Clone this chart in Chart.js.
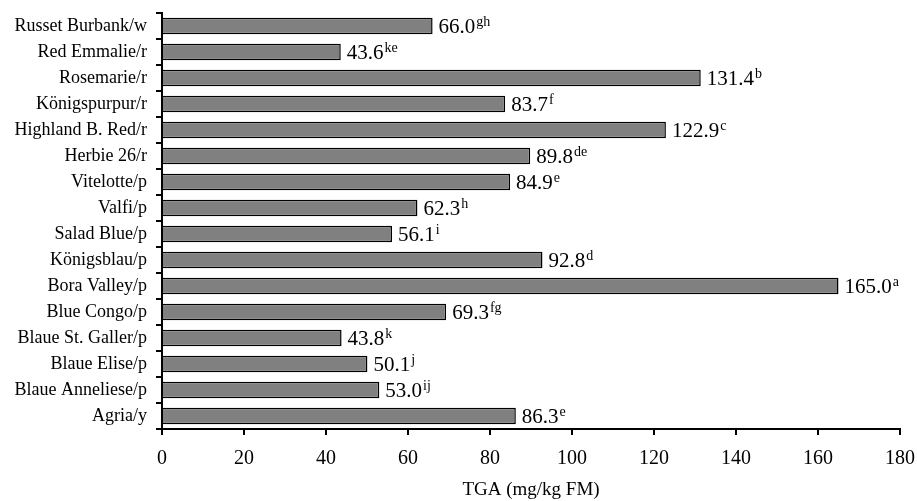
<!doctype html>
<html>
<head>
<title>TGA chart</title>
<script src="https://cdn.jsdelivr.net/npm/chart.js@4/dist/chart.umd.min.js"></script>
<style>
body { margin: 0; background: #fff; }
#wrap { width: 917px; height: 501px; }
</style>
</head>
<body>
<div id="wrap"><canvas id="canvas"></canvas></div>
<script>
var cultivars = ['Russet Burbank/w', 'Red Emmalie/r', 'Rosemarie/r', 'Königspurpur/r', 'Highland B. Red/r',
  'Herbie 26/r', 'Vitelotte/p', 'Valfi/p', 'Salad Blue/p', 'Königsblau/p', 'Bora Valley/p', 'Blue Congo/p',
  'Blaue St. Galler/p', 'Blaue Elise/p', 'Blaue Anneliese/p', 'Agria/y'];
var tga = [66.0, 43.6, 131.4, 83.7, 122.9, 89.8, 84.9, 62.3, 56.1, 92.8, 165.0, 69.3, 43.8, 50.1, 53.0, 86.3];
var letters = ['gh', 'ke', 'b', 'f', 'c', 'de', 'e', 'h', 'i', 'd', 'a', 'fg', 'k', 'j', 'ij', 'e'];

var serif = "'Liberation Serif', 'Times New Roman', serif";

// value + superscript letters next to each bar
var valueLabels = {
  id: 'valueLabels',
  afterDatasetsDraw: function(chart) {
    var ctx = chart.ctx;
    var meta = chart.getDatasetMeta(0);
    ctx.save();
    ctx.fillStyle = '#000';
    ctx.textBaseline = 'alphabetic';
    ctx.textAlign = 'left';
    meta.data.forEach(function(bar, i) {
      var txt = tga[i].toFixed(1);
      var x = bar.x + 6;
      var y = bar.y + 7;
      ctx.font = '21px ' + serif;
      ctx.fillText(txt, x, y);
      var w = ctx.measureText(txt).width;
      ctx.font = '14px ' + serif;
      ctx.fillText(letters[i], x + w + 1, y - 7);
    });
    ctx.restore();
  }
};

new Chart(document.getElementById('canvas'), {
  type: 'bar',
  data: {
    labels: cultivars,
    datasets: [{
      data: tga,
      backgroundColor: '#808080',
      borderColor: '#000',
      borderWidth: 1.5,
      barPercentage: 0.63,
      categoryPercentage: 1
    }]
  },
  options: {
    indexAxis: 'y',
    responsive: true,
    maintainAspectRatio: false,
    animation: false,
    layout: { padding: { left: 0, right: 17, top: 13, bottom: 0 } },
    plugins: { legend: { display: false }, tooltip: { enabled: false } },
    scales: {
      x: {
        min: 0, max: 180,
        ticks: { stepSize: 20, color: '#000', font: { family: serif, size: 20 }, padding: 12, maxRotation: 0 },
        grid: { drawOnChartArea: false, tickLength: 6, color: '#000', lineWidth: 2 },
        border: { color: '#000', width: 2 },
        title: { display: true, text: 'TGA (mg/kg FM)', color: '#000', font: { family: serif, size: 19 }, padding: { top: 6, bottom: 0 } },
        afterFit: function(s) { s.height = 72; s.paddingLeft = 0; s.paddingRight = 0; }
      },
      y: {
        offset: true,
        ticks: { color: '#000', font: { family: serif, size: 18 }, padding: 9 },
        grid: { offset: true, drawOnChartArea: false, tickLength: 6, color: '#000', lineWidth: 2 },
        border: { color: '#000', width: 2 },
        afterFit: function(s) { s.width = 162; s.paddingTop = 0; s.paddingBottom = 0; }
      }
    }
  },
  plugins: [valueLabels]
});
</script>
</body>
</html>
